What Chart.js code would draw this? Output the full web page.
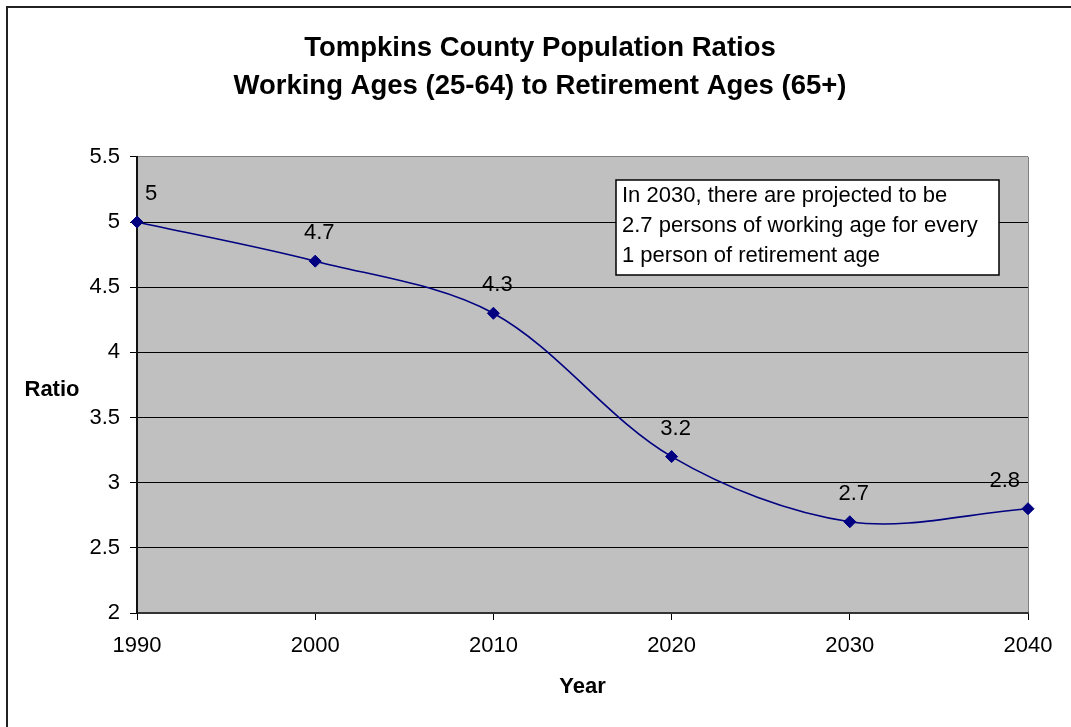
<!DOCTYPE html>
<html>
<head>
<meta charset="utf-8">
<script src="https://cdn.jsdelivr.net/npm/chart.js@4.4.1/dist/chart.umd.min.js"></script>
<style>
  html, body { margin: 0; padding: 0; background: #ffffff; }
  #wrap { width: 1071px; height: 727px; position: relative; }
</style>
</head>
<body>
<div id="wrap"><canvas id="chart"></canvas></div>
<script>
// chart values
const years = [1990, 2000, 2010, 2020, 2030, 2040];
const ratios = [5, 4.7, 4.3, 3.2, 2.7, 2.8];
const titleLines = ["Tompkins County Population Ratios", "Working Ages (25-64) to Retirement Ages (65+)"];
const yAxisTitle = "Ratio";
const xAxisTitle = "Year";
const noteLines = [
  "In 2030, there are projected to be",
  "2.7 persons of working age for every",
  "1 person of retirement age"
];

const FONT = '"Liberation Sans", Arial, sans-serif';

// grey plot area, outer frame and the horizontal "Ratio" label
const plotBackground = {
  id: 'plotBackground',
  beforeDraw(chart) {
    const {ctx, chartArea: a} = chart;
    ctx.save();
    ctx.fillStyle = '#ffffff';
    ctx.fillRect(0, 0, chart.width, chart.height);
    ctx.fillStyle = '#c0c0c0';
    ctx.fillRect(a.left, a.top, a.width, a.height);
    ctx.strokeStyle = '#808080';
    ctx.lineWidth = 1;
    ctx.beginPath();
    ctx.moveTo(Math.round(a.right) + 0.5, a.top);
    ctx.lineTo(Math.round(a.right) + 0.5, a.bottom);
    ctx.stroke();

    ctx.strokeStyle = '#222222';
    ctx.lineWidth = 2;
    ctx.beginPath();
    ctx.moveTo(7, chart.height);
    ctx.lineTo(7, 7);
    ctx.lineTo(chart.width, 7);
    ctx.stroke();

    ctx.fillStyle = '#000000';
    ctx.font = 'bold 22px ' + FONT;
    ctx.textAlign = 'center';
    ctx.textBaseline = 'middle';
    ctx.fillText(yAxisTitle, a.left - 85, (a.top + a.bottom) / 2 + 5);
    ctx.restore();
  }
};

// value labels above each point
const pointLabels = {
  id: 'pointLabels',
  afterDatasetsDraw(chart) {
    const {ctx, chartArea: a} = chart;
    const meta = chart.getDatasetMeta(0);
    ctx.save();
    ctx.font = '22px ' + FONT;
    ctx.fillStyle = '#000000';
    ctx.textAlign = 'center';
    ctx.textBaseline = 'middle';
    meta.data.forEach((pt, i) => {
      const text = String(ratios[i]);
      const w = ctx.measureText(text).width;
      let x = pt.x + 4;
      if (x - w / 2 < a.left + 8) x = a.left + 8 + w / 2;
      if (x + w / 2 > a.right - 8) x = a.right - 8 - w / 2;
      ctx.fillText(text, x, pt.y - 28);
    });
    ctx.restore();
  }
};

// text box with the 2030 note, placed in data units
const noteBox = {
  id: 'noteBox',
  afterDatasetsDraw(chart, args, opts) {
    const {ctx, scales: {x, y}} = chart;
    const left = Math.round(x.getPixelForValue(opts.xMin));
    const right = Math.round(x.getPixelForValue(opts.xMax));
    const top = Math.round(y.getPixelForValue(opts.yMax));
    const bottom = Math.round(y.getPixelForValue(opts.yMin));
    ctx.save();
    ctx.fillStyle = '#ffffff';
    ctx.fillRect(left, top, right - left, bottom - top);
    ctx.strokeStyle = '#000000';
    ctx.lineWidth = 1.5;
    ctx.strokeRect(left, top, right - left, bottom - top);
    ctx.fillStyle = '#000000';
    ctx.font = '22px ' + FONT;
    ctx.textAlign = 'left';
    ctx.textBaseline = 'middle';
    opts.lines.forEach((line, i) => {
      ctx.fillText(line, left + 6, top + 16 + i * 30);
    });
    ctx.restore();
  }
};

new Chart(document.getElementById('chart').getContext('2d'), {
  type: 'line',
  data: {
    datasets: [{
      data: years.map((yr, i) => ({x: yr, y: ratios[i]})),
      borderColor: '#000080',
      backgroundColor: '#000080',
      borderWidth: 1.6,
      pointStyle: 'rectRot',
      pointRadius: 6,
      pointBorderWidth: 1,
      pointBorderColor: '#000080',
      pointBackgroundColor: '#000080',
      tension: 0.33,
      fill: false,
      clip: false
    }]
  },
  options: {
    responsive: true,
    maintainAspectRatio: false,
    animation: false,
    layout: {
      padding: {left: 52, right: 43, top: 0, bottom: 0}
    },
    plugins: {
      legend: {display: false},
      tooltip: {enabled: false},
      title: {
        display: true,
        text: titleLines,
        color: '#000000',
        font: {family: FONT, size: 27.5, weight: 'bold', lineHeight: 1.38},
        padding: {top: 29, bottom: 52}
      },
      noteBox: {
        xMin: 2016.9,
        xMax: 2038.4,
        yMin: 4.59,
        yMax: 5.32,
        lines: noteLines
      }
    },
    scales: {
      x: {
        type: 'linear',
        min: 1990,
        max: 2040,
        afterFit(scale) { scale.height = 114; },
        ticks: {
          stepSize: 10,
          color: '#000000',
          padding: 13,
          maxRotation: 0,
          font: {family: FONT, size: 22},
          callback: (v) => String(v)
        },
        grid: {
          drawOnChartArea: false,
          drawTicks: true,
          tickLength: 7,
          tickColor: '#000000'
        },
        border: {display: true, color: '#333333', width: 2},
        title: {
          display: true,
          text: xAxisTitle,
          color: '#000000',
          font: {family: FONT, size: 22, weight: 'bold'},
          padding: {top: 0, bottom: 27}
        }
      },
      y: {
        min: 2,
        max: 5.5,
        afterFit(scale) { scale.width = 85; },
        ticks: {
          stepSize: 0.5,
          color: '#000000',
          padding: 10,
          font: {family: FONT, size: 22},
          callback: (v) => String(v)
        },
        grid: {
          color: (c) => (c.tick && c.tick.value === 5.5 ? '#808080' : '#000000'),
          lineWidth: 1,
          tickLength: 7,
          tickColor: '#000000'
        },
        border: {display: true, color: '#111111', width: 2}
      }
    }
  },
  plugins: [plotBackground, noteBox, pointLabels]
});
</script>
</body>
</html>
